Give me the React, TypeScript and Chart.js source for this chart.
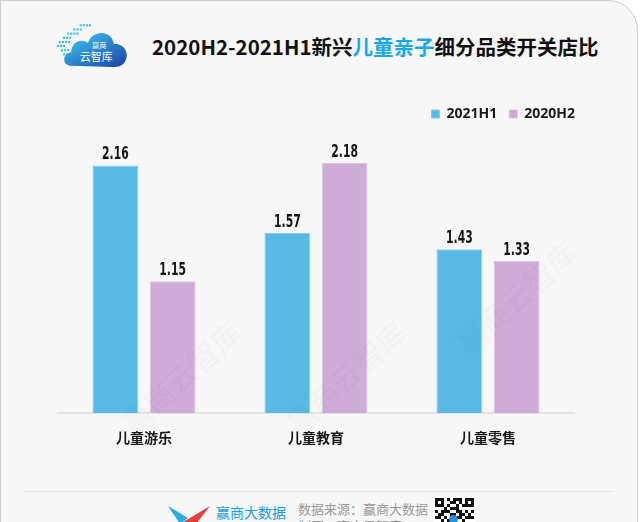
import React, { useEffect, useRef } from "react";
import { Chart, registerables } from "chart.js";

Chart.register(...registerables);

const categories = ["儿童游乐", "儿童教育", "儿童零售"];
const series2021H1 = [2.16, 1.57, 1.43];
const series2020H2 = [1.15, 2.18, 1.33];
const seriesNames = ["2021H1", "2020H2"];
const titleParts = ["2020H2-2021H1新兴", "儿童亲子", "细分品类开关店比"];

const valueLabelPlugin = {
  id: "valueLabels",
  afterDatasetsDraw(chart: any) {
    const ctx = chart.ctx;
    chart.data.datasets.forEach((ds: any, i: number) => {
      const meta = chart.getDatasetMeta(i);
      meta.data.forEach((el: any, j: number) => {
        const v = ds.data[j];
        ctx.save();
        ctx.translate(el.x, el.y - 6);
        ctx.scale(0.6, 1);
        ctx.font = "bold 18px 'DejaVu Sans'";
        ctx.fillStyle = "#151515";
        ctx.textAlign = "center";
        ctx.textBaseline = "alphabetic";
        ctx.fillText(v.toFixed(2), 0, 0);
        ctx.restore();
      });
    });
  },
};

const legendShiftPlugin = {
  id: "legendShift",
  afterLayout(chart: any) {
    const lg = chart.legend;
    if (lg) {
      lg.left += 13;
      lg.right += 13;
    }
  },
};

function ChartView() {
  const ref = useRef<HTMLCanvasElement>(null);
  useEffect(() => {
    if (!ref.current) return;
    const chart = new Chart(ref.current, {
      type: "bar",
      data: {
        labels: categories,
        datasets: [
          {
            label: seriesNames[0],
            data: series2021H1,
            backgroundColor: "#58b9e4",
            borderColor: "#84cbee",
            borderWidth: 1,
            categoryPercentage: 0.666,
            barPercentage: 0.8,
          },
          {
            label: seriesNames[1],
            data: series2020H2,
            backgroundColor: "#cfabd8",
            borderColor: "#dcc1e4",
            borderWidth: 1,
            categoryPercentage: 0.666,
            barPercentage: 0.8,
          },
        ],
      },
      options: {
        responsive: false,
        animation: false,
        layout: { padding: { left: 58, right: 66, top: 0, bottom: 0 } },
        plugins: {
          legend: {
            display: true,
            position: "top",
            align: "end",
            labels: {
              boxWidth: 8,
              boxHeight: 8,
              padding: 12,
              color: "#1a1a1a",
              font: { family: "'Open Sans'", weight: "bold", size: 14 },
            },
          },
          tooltip: { enabled: false },
        },
        scales: {
          x: {
            grid: { display: false, drawTicks: false },
            border: { display: true, color: "#e4e4e4", width: 2 },
            ticks: {
              padding: 16,
              color: "#1a1a1a",
              font: { family: "'Noto Sans CJK SC'", weight: "bold", size: 14 },
            },
          },
          y: {
            display: false,
            min: 0,
            max: 2.46,
          },
        },
      },
      plugins: [valueLabelPlugin, legendShiftPlugin],
    });
    return () => chart.destroy();
  }, []);
  return (
    <canvas
      ref={ref}
      width={640}
      height={367}
      style={{ position: "absolute", left: 0, top: 95, width: 640, height: 367 }}
    />
  );
}

function Logo() {
  return (
    <svg width={84} height={52} style={{ position: "absolute", left: 48, top: 18 }} viewBox="0 0 80 50">
      <defs>
        <linearGradient id="cg" x1="0" y1="0" x2="1" y2="1">
          <stop offset="0" stopColor="#3fd0f5" />
          <stop offset="1" stopColor="#1c3fa6" />
        </linearGradient>
      </defs>
      {[
        [30, 6], [33, 6], [36, 6], [39, 6],
        [24, 10], [27, 10], [30, 10],
        [18, 14], [21, 14], [24, 14], [27, 14],
        [14, 18], [17, 18], [20, 18],
        [10, 22], [13, 22], [16, 22], [19, 22],
        [8, 26], [11, 26], [14, 26],
        [12, 30], [15, 30], [18, 30],
        [14, 34], [17, 34], [20, 34],
        [16, 38], [19, 38],
      ].map(([x, y], i) => (
        <rect key={i} x={x} y={y} width={2} height={2} fill="#38bfee" />
      ))}
      <path
        d="M22 46 C13 46 13 34 22 33 C22 23 32 19 38 24 C42 11 61 11 63 25 C73 24 78 34 74 41 C72 46 67 47 62 47 Z"
        fill="url(#cg)"
      />
      <text x={49} y={29} fontSize={7} fill="#fff" textAnchor="middle" fontFamily="'Noto Sans CJK SC'">赢商</text>
      <text x={46} y={41} fontSize={10.5} fill="#fff" textAnchor="middle" fontFamily="'Noto Sans CJK SC'">云智库</text>
    </svg>
  );
}

function Watermark({ left, top }: { left: number; top: number }) {
  return (
    <div
      style={{
        position: "absolute",
        left,
        top,
        transform: "rotate(-42deg)",
        transformOrigin: "left top",
        fontFamily: "'Noto Sans CJK SC'",
        fontSize: 30,
        color: "rgba(0,0,0,0.022)",
        whiteSpace: "nowrap",
        pointerEvents: "none",
      }}
    >
      赢商云智库
    </div>
  );
}

const qrCells = [
  "1110101110111",
  "1010011010101",
  "1110100101111",
  "0001011100000",
  "1011100110101",
  "0110011011010",
  "1101010110111",
  "0010111001000",
  "1110010111011",
];

export default function App() {
  return (
    <div style={{ position: "absolute", left: 0, top: 0, width: 640, height: 522, overflow: "hidden", background: "#ffffff" }}>
      <div
        style={{
          position: "absolute",
          left: 0,
          top: 0,
          width: 636,
          height: 560,
          background: "#f7f7f7",
          border: "1.5px solid #cfcfcf",
          borderTopRightRadius: 30,
        }}
      />
      <Logo />
      <div
        style={{
          position: "absolute",
          left: 152,
          top: 31,
          fontFamily: "'Noto Sans CJK SC'",
          fontWeight: 700,
          fontSize: 20.5,
          color: "#111",
          whiteSpace: "nowrap",
          lineHeight: "30px",
        }}
      >
        {titleParts[0]}
        <span style={{ color: "#19a7ea" }}>{titleParts[1]}</span>
        {titleParts[2]}
      </div>
      <ChartView />
      <Watermark left={110} top={410} />
      <Watermark left={275} top={410} />
      <Watermark left={445} top={330} />
      <div style={{ position: "absolute", left: 25, top: 491, width: 588, height: 1, background: "#e4e4e4" }} />
      <svg width={46} height={20} style={{ position: "absolute", left: 166, top: 504 }} viewBox="0 0 46 20">
        <polygon points="2,2 22,14 14,20" fill="#2fa8e6" />
        <polygon points="14,20 44,2 30,20" fill="#e2413b" />
      </svg>
      <div style={{ position: "absolute", left: 216, top: 502, fontFamily: "'Noto Sans CJK SC'", fontSize: 14, color: "#1a9be0", whiteSpace: "nowrap", lineHeight: "20px" }}>
        赢商大数据
      </div>
      <div style={{ position: "absolute", left: 298, top: 500, fontFamily: "'Noto Sans CJK SC'", fontSize: 13, color: "#9a9a9a", whiteSpace: "nowrap", lineHeight: "17px" }}>
        数据来源：赢商大数据
        <br />
        制图：赢商云智库
      </div>
      <div style={{ position: "absolute", left: 433, top: 496, width: 42, height: 30, background: "#fff" }}>
        {qrCells.map((row, r) =>
          row.split("").map((c, k) =>
            c === "1" ? (
              <div key={r + "-" + k} style={{ position: "absolute", left: 2 + k * 3, top: 2 + r * 3, width: 3, height: 3, background: "#111" }} />
            ) : null
          )
        )}
        <div style={{ position: "absolute", left: 16, top: 19, width: 9, height: 9, borderRadius: 5, background: "#2a8fdc" }} />
      </div>
    </div>
  );
}
